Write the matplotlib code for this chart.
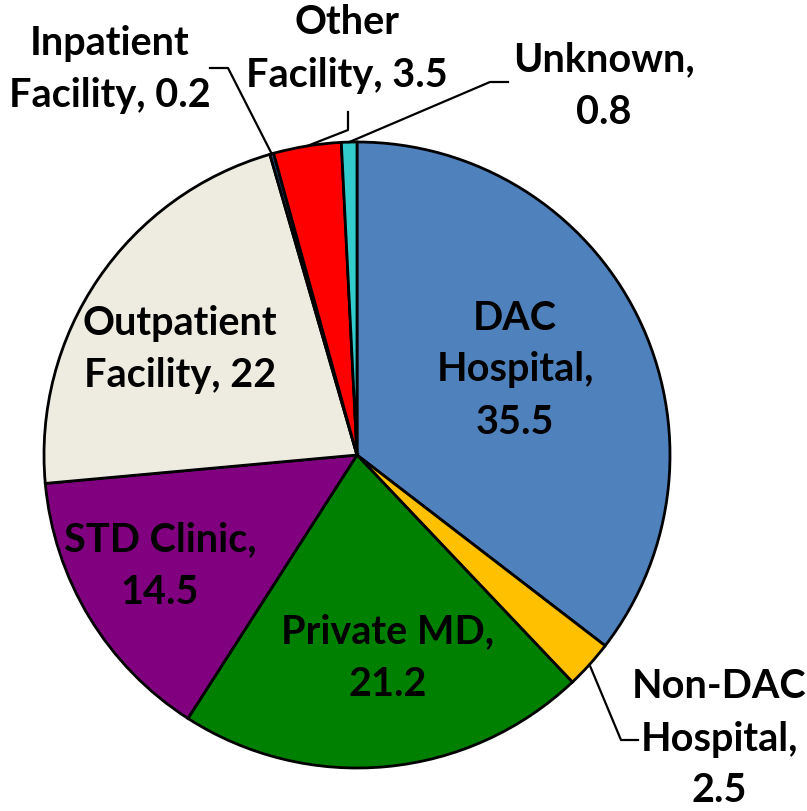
import matplotlib
matplotlib.use("Agg")
import matplotlib.pyplot as plt
import numpy as np

categories = ["DAC\nHospital,", "Non-DAC\nHospital,", "Private MD,", "STD Clinic,",
              "Outpatient\nFacility,", "Inpatient\nFacility,", "Other\nFacility,", "Unknown,"]
values = [35.5, 2.5, 21.2, 14.5, 22, 0.2, 3.5, 0.8]
value_labels = ["35.5", "2.5", "21.2", "14.5", "22", "0.2", "3.5", "0.8"]
colors = ["#4F81BD", "#FFC000", "#008000", "#800080", "#EEECE1", "#1F497D", "#FF0000", "#33CCCC"]

W, H = 807, 811
fig = plt.figure(figsize=(W / 100, H / 100), dpi=100)
ax = fig.add_axes([0, 0, 1, 1])

cx, cy, R = 357, H - 455, 313
wedges, _ = ax.pie(values, colors=colors, startangle=90, counterclock=False,
                   center=(cx, cy), radius=R, frame=True,
                   wedgeprops=dict(edgecolor="black", linewidth=2.0))
ax.set_xlim(0, W)
ax.set_ylim(0, H)
ax.set_aspect("equal")
ax.axis("off")

font = dict(family=["Lato", "DejaVu Sans"], fontweight="bold", fontsize=28.5,
            color="black", ha="center", va="center", linespacing=1.5)

seps = ["\n", "\n", "\n", "\n", " ", " ", " ", "\n"]
texts = [c + s + v for c, s, v in zip(categories, seps, value_labels)]

inside = {0: (515, 370), 2: (388, 658), 3: (160, 566), 4: (180, 349)}
for i, (x, y) in inside.items():
    ax.text(x, H - y, texts[i], **font)

def mid_point(i, r=R):
    w = wedges[i]
    ang = np.deg2rad((w.theta1 + w.theta2) / 2)
    return cx + r * np.cos(ang), cy + r * np.sin(ang)

outside = {
    1: ((719, 739), [(621, 740), (638, 740)]),
    5: ((110, 70), [(228, 68), (210, 68)]),
    6: ((347, 49), [(348, 130), (348, 112)]),
    7: ((604, 86), [(490, 82), (508, 82)]),
}
for i, ((tx, ty), pts) in outside.items():
    x0, y0 = mid_point(i)
    xs = [x0] + [p[0] for p in pts]
    ys = [y0] + [H - p[1] for p in pts]
    ax.plot(xs, ys, color="black", linewidth=1.6)
    ax.text(tx, H - ty, texts[i], **font)

fig.savefig("out.png", dpi=100, facecolor="white")
